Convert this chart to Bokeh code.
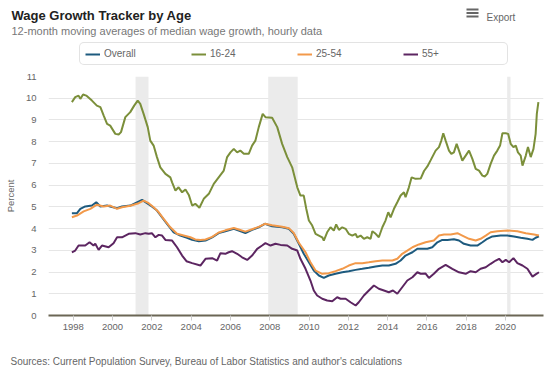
from bokeh.plotting import figure
from bokeh.layouts import column
from bokeh.models import (Legend, LegendItem, Label, BoxAnnotation, FixedTicker, Range1d, Plot)
from bokeh.embed import file_html
from bokeh.resources import INLINE

FONT = "Liberation Sans"

# ---------------- data (decimal years, percent) ----------------
rec_start = [2001.17, 2007.92, 2020.08]
rec_end = [2001.83, 2009.42, 2020.25]

year_ticks = [1998, 2000, 2002, 2004, 2006, 2008, 2010, 2012, 2014, 2016, 2018, 2020]
pct_ticks = [0, 1, 2, 3, 4, 5, 6, 7, 8, 9, 10, 11]

overall_x = [1997.93, 1998.19, 1998.36, 1998.61, 1998.95, 1999.17, 1999.38, 1999.72, 1999.88, 2000.23,
             2000.48, 2000.9, 2001.24, 2001.5, 2001.75, 2002.0, 2002.26, 2002.52, 2002.77, 2003.11,
             2003.45, 2003.79, 2004.05, 2004.39, 2004.73, 2005.07, 2005.4, 2005.74, 2006.17, 2006.42,
             2006.76, 2007.1, 2007.44, 2007.75, 2008.12, 2008.63, 2008.97, 2009.22, 2009.48, 2009.73,
             2009.99, 2010.24, 2010.5, 2010.75, 2011.0, 2011.35, 2011.69, 2012.02, 2012.37, 2012.71,
             2013.04, 2013.39, 2013.73, 2014.06, 2014.4, 2014.66, 2014.91, 2015.26, 2015.51, 2015.76,
             2016.02, 2016.27, 2016.53, 2016.78, 2017.04, 2017.37, 2017.63, 2017.88, 2018.22, 2018.56,
             2018.82, 2019.07, 2019.33, 2019.75, 2020.09, 2020.43, 2020.77, 2021.11, 2021.37, 2021.53,
             2021.7]
overall_y = [4.71, 4.71, 4.91, 5.02, 5.06, 5.21, 5.02, 5.06, 5.02, 4.94,
             5.02, 5.06, 5.21, 5.32, 5.17, 5.02, 4.83, 4.52, 4.22, 3.83,
             3.68, 3.58, 3.48, 3.42, 3.45, 3.6, 3.79, 3.88, 3.99, 3.91,
             3.79, 3.94, 4.06, 4.22, 4.11, 4.06, 3.99, 3.76, 3.3, 2.84,
             2.45, 2.07, 1.84, 1.73, 1.84, 1.92, 1.99, 2.04, 2.1, 2.15,
             2.2, 2.26, 2.3, 2.3, 2.38, 2.53, 2.76, 2.91, 3.07, 3.07,
             3.07, 3.14, 3.37, 3.48, 3.48, 3.51, 3.45, 3.3, 3.22, 3.22,
             3.37, 3.53, 3.64, 3.68, 3.68, 3.64, 3.58, 3.53, 3.48, 3.58,
             3.64]

young_x = [1997.93, 1998.1, 1998.27, 1998.36, 1998.5, 1998.66, 1998.95, 1999.2, 1999.38, 1999.55,
           1999.72, 1999.88, 2000.14, 2000.31, 2000.43, 2000.65, 2000.9, 2001.1, 2001.28, 2001.41,
           2001.58, 2001.79, 2001.92, 2002.09, 2002.26, 2002.43, 2002.69, 2002.94, 2003.03, 2003.2,
           2003.36, 2003.54, 2003.71, 2003.88, 2004.05, 2004.21, 2004.42, 2004.64, 2004.9, 2005.15,
           2005.4, 2005.66, 2005.83, 2006.0, 2006.17, 2006.34, 2006.5, 2006.68, 2006.93, 2007.1,
           2007.27, 2007.44, 2007.64, 2007.78, 2008.12, 2008.38, 2008.63, 2008.89, 2009.14, 2009.4,
           2009.56, 2009.73, 2009.86, 2009.99, 2010.16, 2010.33, 2010.5, 2010.67, 2010.75, 2010.92,
           2011.09, 2011.26, 2011.38, 2011.52, 2011.69, 2011.86, 2012.02, 2012.2, 2012.37, 2012.45,
           2012.62, 2012.79, 2012.96, 2013.13, 2013.22, 2013.39, 2013.55, 2013.73, 2013.89, 2014.03,
           2014.15, 2014.32, 2014.49, 2014.66, 2014.83, 2014.91, 2015.08, 2015.22, 2015.42, 2015.68,
           2015.85, 2016.02, 2016.19, 2016.44, 2016.61, 2016.73, 2016.83, 2016.95, 2017.12, 2017.24,
           2017.37, 2017.51, 2017.63, 2017.8, 2017.97, 2018.14, 2018.31, 2018.48, 2018.65, 2018.82,
           2018.94, 2019.07, 2019.24, 2019.41, 2019.58, 2019.72, 2019.84, 2020.01, 2020.13, 2020.26,
           2020.4, 2020.52, 2020.63, 2020.77, 2020.86, 2021.03, 2021.14, 2021.28, 2021.42, 2021.53,
           2021.59, 2021.67]
young_y = [9.82, 10.05, 10.12, 9.97, 10.17, 10.12, 9.89, 9.66, 9.59, 9.2,
           8.82, 8.74, 8.36, 8.33, 8.44, 9.13, 9.36, 9.66, 9.89, 9.74,
           9.28, 8.67, 8.05, 7.82, 7.29, 6.82, 6.52, 6.36, 6.13, 5.75,
           5.9, 5.67, 5.8, 5.55, 5.06, 5.14, 4.96, 5.37, 5.6, 6.06,
           6.36, 6.67, 7.29, 7.51, 7.67, 7.51, 7.59, 7.44, 7.44, 7.82,
           8.05, 8.67, 9.28, 9.13, 9.1, 8.67, 7.9, 7.29, 6.82, 5.9,
           5.52, 5.52, 4.9, 4.37, 4.14, 3.76, 3.68, 3.6, 3.45, 3.83,
           4.06, 3.91, 4.19, 3.94, 4.06, 3.99, 3.76, 3.68, 3.76, 3.6,
           3.68, 3.53, 3.6, 3.53, 3.88, 3.76, 3.6, 4.06, 4.37, 4.75,
           4.52, 4.91, 5.21, 5.52, 5.67, 5.44, 5.9, 6.36, 6.29, 6.3,
           6.65, 6.86, 7.15, 7.59, 7.75, 8.05, 8.39, 8.05, 7.59, 7.44,
           7.51, 7.9, 7.59, 7.13, 7.36, 7.59, 7.21, 6.75, 6.67, 6.44,
           6.4, 6.52, 6.98, 7.36, 7.59, 7.82, 8.39, 8.39, 8.36, 7.9,
           7.75, 7.82, 7.51, 7.36, 6.9, 7.36, 7.75, 7.29, 7.67, 8.36,
           9.28, 9.82]

prime_x = [1997.93, 1998.19, 1998.53, 1998.87, 1999.2, 1999.55, 1999.88, 2000.23, 2000.48, 2000.9,
           2001.33, 2001.58, 2001.84, 2002.09, 2002.35, 2002.6, 2002.94, 2003.28, 2003.62, 2003.96,
           2004.21, 2004.47, 2004.73, 2005.07, 2005.4, 2005.74, 2006.17, 2006.42, 2006.76, 2007.1,
           2007.44, 2007.75, 2008.12, 2008.63, 2008.97, 2009.22, 2009.48, 2009.82, 2010.07, 2010.33,
           2010.67, 2011.0, 2011.35, 2011.69, 2012.02, 2012.37, 2012.71, 2013.04, 2013.39, 2013.73,
           2014.24, 2014.49, 2014.74, 2015.0, 2015.26, 2015.59, 2015.93, 2016.35, 2016.61, 2016.87,
           2017.21, 2017.55, 2017.8, 2018.14, 2018.48, 2018.73, 2018.99, 2019.24, 2019.58, 2020.09,
           2020.6, 2021.03, 2021.45, 2021.7]
prime_y = [4.52, 4.6, 4.79, 4.91, 5.1, 5.02, 5.06, 4.91, 4.98, 5.05,
           5.17, 5.29, 5.17, 4.98, 4.75, 4.45, 4.06, 3.76, 3.68, 3.6,
           3.5, 3.48, 3.5, 3.62, 3.82, 3.92, 4.03, 3.96, 3.86, 3.97,
           4.08, 4.22, 4.15, 4.08, 4.02, 3.8, 3.35, 2.91, 2.45, 2.07,
           1.92, 1.95, 2.04, 2.15, 2.3, 2.41, 2.41, 2.45, 2.5, 2.53,
           2.53, 2.61, 2.84, 2.99, 3.14, 3.27, 3.37, 3.45, 3.68, 3.73,
           3.73, 3.79, 3.68, 3.53, 3.45, 3.53, 3.68, 3.83, 3.88, 3.91,
           3.88, 3.79, 3.73, 3.68]

older_x = [1997.93, 1998.1, 1998.27, 1998.61, 1998.83, 1999.03, 1999.12, 1999.29, 1999.46, 1999.8,
           2000.05, 2000.23, 2000.48, 2000.82, 2001.16, 2001.41, 2001.67, 2001.84, 2002.0, 2002.18,
           2002.35, 2002.52, 2002.69, 2003.03, 2003.28, 2003.54, 2003.76, 2004.05, 2004.47, 2004.73,
           2005.07, 2005.32, 2005.49, 2005.74, 2005.91, 2006.08, 2006.34, 2006.59, 2006.85, 2007.1,
           2007.36, 2007.61, 2007.78, 2008.04, 2008.29, 2008.55, 2008.89, 2009.14, 2009.4, 2009.56,
           2009.82, 2010.07, 2010.24, 2010.41, 2010.67, 2010.92, 2011.18, 2011.43, 2011.6, 2011.86,
           2012.11, 2012.37, 2012.53, 2012.79, 2013.04, 2013.3, 2013.55, 2013.81, 2014.06, 2014.27,
           2014.49, 2014.74, 2015.0, 2015.26, 2015.51, 2015.68, 2015.93, 2016.1, 2016.35, 2016.61,
           2016.95, 2017.29, 2017.63, 2017.97, 2018.22, 2018.48, 2018.73, 2018.99, 2019.24, 2019.5,
           2019.67, 2019.84, 2020.01, 2020.18, 2020.4, 2020.6, 2020.86, 2021.11, 2021.37, 2021.53,
           2021.7]
older_y = [2.91, 2.99, 3.22, 3.22, 3.37, 3.22, 3.3, 3.02, 3.22, 3.14,
           3.33, 3.6, 3.6, 3.76, 3.79, 3.73, 3.79, 3.76, 3.79, 3.6,
           3.71, 3.68, 3.48, 3.45, 3.14, 2.76, 2.5, 2.41, 2.3, 2.61,
           2.64, 2.53, 2.87, 2.84, 2.91, 2.96, 2.84, 2.68, 2.56, 2.76,
           3.07, 3.22, 3.33, 3.22, 3.3, 3.25, 3.22, 3.07, 2.99, 2.61,
           2.15, 1.61, 1.15, 0.92, 0.77, 0.69, 0.66, 0.84, 0.77, 0.77,
           0.61, 0.46, 0.61, 0.92, 1.15, 1.38, 1.23, 1.15, 1.07, 1.15,
           1.0, 1.3, 1.61, 1.76, 1.99, 1.92, 1.93, 1.73, 1.92, 2.15,
           2.33, 2.15, 1.99, 1.92, 2.04, 1.99, 2.15, 2.22, 2.38, 2.53,
           2.61, 2.45, 2.56, 2.45, 2.64, 2.41, 2.3, 2.15, 1.79, 1.89,
           1.99]

series_names = ["Overall", "16-24", "25-54", "55+"]
series_colors = ["#1d5a7e", "#7b8f3a", "#f2994a", "#5c2561"]
series_data = [(overall_x, overall_y), (young_x, young_y), (prime_x, prime_y), (older_x, older_y)]

TITLE = "Wage Growth Tracker by Age"
SUBTITLE = "12-month moving averages of median wage growth, hourly data"
SOURCE = "Sources: Current Population Survey, Bureau of Labor Statistics and author's calculations"

HAS_FRAME_ALIGN = "frame_align" in Plot.properties()


def bare(h):
    f = figure(width=554, height=h, output_backend="svg", toolbar_location=None, title=None,
               x_range=Range1d(0, 554), y_range=Range1d(0, h), min_border=0,
               x_axis_location=None, y_axis_location=None)
    f.outline_line_color = None
    f.grid.grid_line_color = None
    f.background_fill_color = "white"
    f.border_fill_color = "white"
    if HAS_FRAME_ALIGN:
        f.frame_align = False
    return f


def lab(f, text, x, y, size, color, style="normal"):
    f.add_layout(Label(x=x, y=y, x_units="screen", y_units="screen", text=text,
                       text_font=FONT, text_font_size=size, text_color=color,
                       text_font_style=style, text_align="left", text_baseline="alphabetic"))


# ---------------- header (title, subtitle, export, legend) ----------------
HH = 66
header = bare(HH)
lab(header, TITLE, 11, HH - 15.3, "13px", "#222222", "bold")
lab(header, SUBTITLE, 11, HH - 30.7, "11px", "#777777")
lab(header, "Export", 486, HH - 17, "10px", "#666666")
for top in [8, 11.5, 15]:
    header.add_layout(BoxAnnotation(left=466, right=478, top=HH - top, bottom=HH - top - 2,
                                    left_units="screen", right_units="screen",
                                    top_units="screen", bottom_units="screen",
                                    fill_color="#666666", fill_alpha=1, line_color=None))

# legend samples: hidden copies of the series (outside this strip's range)
leg_renderers = []
for (xs, ys), c in zip(series_data, series_colors):
    leg_renderers.append(header.line(xs, ys, line_color=c, line_width=2, visible=False))
legend = Legend(items=[LegendItem(label=n, renderers=[r]) for n, r in zip(series_names, leg_renderers)],
                orientation="horizontal", location=(79, 1),
                glyph_width=15, glyph_height=10, label_width=80, label_height=10,
                spacing=7, padding=5, label_standoff=4, margin=0,
                border_line_color="#c8c8c8", border_line_width=1,
                background_fill_color="white", background_fill_alpha=1,
                inactive_fill_alpha=0,
                label_text_font=FONT, label_text_font_size="10px", label_text_color="#666666")
if "border_radius" in Legend.properties():
    legend.border_radius = 5
header.add_layout(legend)

# ---------------- main chart ----------------
p = figure(width=554, height=279, output_backend="svg", toolbar_location=None, title=None,
           x_range=Range1d(1996.74, 2021.93), y_range=Range1d(0, 11),
           min_border_left=48, min_border_right=11, min_border_top=10, min_border_bottom=30)
p.outline_line_color = None
p.background_fill_color = "white"
p.border_fill_color = "white"
if HAS_FRAME_ALIGN:
    p.frame_align = False

p.quad(left=rec_start, right=rec_end, bottom=0, top=11, fill_color="#ebebeb", line_color=None)

for (xs, ys), c in zip(series_data, series_colors):
    p.line(xs, ys, line_color=c, line_width=2)

p.xaxis.ticker = FixedTicker(ticks=year_ticks)
p.xaxis.axis_line_color = "#6b6655"
p.xaxis.axis_line_width = 2
p.xaxis.major_tick_line_color = "#cccccc"
p.xaxis.major_tick_out = 5
p.xaxis.major_tick_in = 0
p.xaxis.minor_tick_line_color = None
p.xaxis.minor_tick_out = 0
p.xaxis.major_label_standoff = 3
p.xaxis.major_label_text_font = FONT
p.xaxis.major_label_text_font_size = "9.5px"
p.xaxis.major_label_text_color = "#666666"

p.yaxis.ticker = FixedTicker(ticks=pct_ticks)
p.yaxis.axis_line_color = None
p.yaxis.major_tick_line_color = None
p.yaxis.minor_tick_line_color = None
p.yaxis.major_tick_out = 0
p.yaxis.minor_tick_out = 0
p.yaxis.major_label_standoff = 12
p.yaxis.major_label_text_font = FONT
p.yaxis.major_label_text_font_size = "9.5px"
p.yaxis.major_label_text_color = "#666666"
p.yaxis.axis_label = "Percent"
p.yaxis.axis_label_standoff = 7
p.yaxis.axis_label_text_font = FONT
p.yaxis.axis_label_text_font_size = "9.5px"
p.yaxis.axis_label_text_font_style = "normal"
p.yaxis.axis_label_text_color = "#666666"

p.xgrid.grid_line_color = None
p.ygrid.grid_line_color = "#e6e6e6"
p.ygrid.grid_line_width = 1

# ---------------- footer (source) ----------------
FH = 22
footer = bare(FH)
lab(footer, SOURCE, 10, FH - 16, "10px", "#666666")

layout = column(header, p, footer, spacing=0)
open("out.html", "w").write(file_html(layout, INLINE))
